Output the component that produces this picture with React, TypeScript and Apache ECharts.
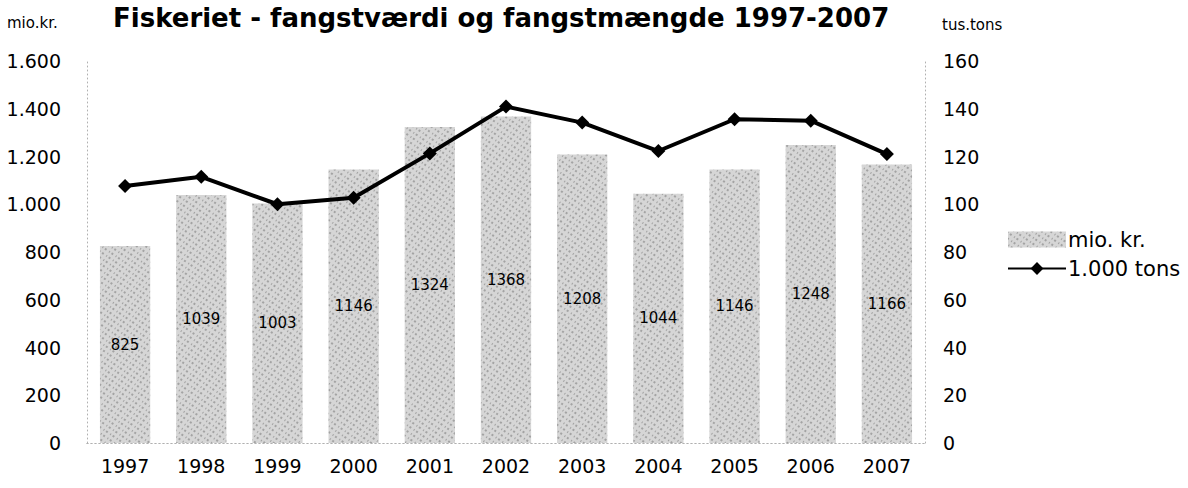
import React, { useEffect, useRef } from "react";
import * as echarts from "echarts";

const years = ["1997", "1998", "1999", "2000", "2001", "2002", "2003", "2004", "2005", "2006", "2007"];
const valueMioKr = [825, 1039, 1003, 1146, 1324, 1368, 1208, 1044, 1146, 1248, 1166];
const tonsThousand = [107.6, 111.5, 100.0, 102.7, 121.3, 140.9, 134.2, 122.3, 135.6, 135.0, 121.0];

const titleText = "Fiskeriet - fangstværdi og fangstmængde 1997-2007";
const leftUnit = "mio.kr.";
const rightUnit = "tus.tons";
const barName = "mio. kr.";
const lineName = "1.000 tons";

const FONT = "'DejaVu Sans', Verdana, sans-serif";
const dotted = { color: "#b0b0b0", width: 1, type: [1, 3] as any };

function fmtThousands(v: number): string {
  return String(v).replace(/\B(?=(\d{3})+(?!\d))/g, ".");
}

export default function App() {
  const ref = useRef<HTMLDivElement>(null);
  useEffect(() => {
    if (!ref.current) return;
    const chart = echarts.init(ref.current, undefined, { renderer: "svg" });
    chart.setOption({
      animation: false,
      backgroundColor: "#ffffff",
      textStyle: { fontFamily: FONT },
      graphic: [
        {
          type: "text",
          left: 113,
          top: 5,
          style: { text: titleText, font: `bold 26px ${FONT}`, fill: "#000" },
        },
        {
          type: "text",
          left: 7,
          top: 15,
          style: { text: leftUnit, font: `15px ${FONT}`, fill: "#000" },
        },
        {
          type: "text",
          left: 942,
          top: 17,
          style: { text: rightUnit, font: `15px ${FONT}`, fill: "#000" },
        },
      ],
      legend: {
        orient: "vertical",
        left: 1002,
        top: 224,
        itemWidth: 58,
        itemHeight: 16,
        itemGap: 8,
        textStyle: { fontFamily: FONT, fontSize: 21, color: "#000", padding: [0, 0, 0, -3] },
        data: [
          { name: barName, icon: "rect" },
          { name: lineName },
        ],
      },
      grid: { left: 87, right: 263, top: 61, bottom: 45, containLabel: false },
      xAxis: [
        {
          type: "category",
          data: years,
          position: "bottom",
          axisLine: { show: true, lineStyle: dotted },
          axisTick: { show: false },
          axisLabel: { color: "#000", fontSize: 19, fontFamily: FONT, margin: 13 },
        },
        {
          type: "category",
          data: years,
          position: "top",
          axisLine: { show: true, lineStyle: dotted },
          axisTick: { show: false },
          axisLabel: { show: false },
        },
      ],
      yAxis: [
        {
          type: "value",
          min: 0,
          max: 1600,
          interval: 200,
          position: "left",
          axisLine: { show: true, lineStyle: dotted },
          axisTick: { show: false },
          splitLine: { show: false },
          axisLabel: {
            color: "#000",
            fontSize: 19,
            fontFamily: FONT,
            margin: 26,
            formatter: (v: number) => fmtThousands(v),
          },
        },
        {
          type: "value",
          min: 0,
          max: 160,
          interval: 20,
          position: "right",
          axisLine: { show: true, lineStyle: dotted },
          axisTick: { show: false },
          splitLine: { show: false },
          axisLabel: { color: "#000", fontSize: 19, fontFamily: FONT, margin: 18 },
        },
      ],
      series: [
        {
          name: barName,
          type: "bar",
          xAxisIndex: 0,
          yAxisIndex: 0,
          data: valueMioKr,
          barWidth: "66%",
          itemStyle: {
            color: "#d6d6d6",
            decal: {
              symbol: "rect",
              symbolSize: 0.7,
              color: "rgba(0,0,0,0.45)",
              backgroundColor: "#dddddd",
              dashArrayX: [[1, 2, 2, 3]],
              dashArrayY: [2, 3],
              rotation: 0.6,
            },
          },
          label: {
            show: true,
            position: "inside",
            color: "#000",
            fontSize: 15,
            fontFamily: FONT,
          },
          z: 1,
        },
        {
          name: lineName,
          type: "line",
          xAxisIndex: 0,
          yAxisIndex: 1,
          data: tonsThousand,
          symbol: "diamond",
          symbolSize: 14,
          lineStyle: { color: "#000", width: 4 },
          itemStyle: { color: "#000" },
          z: 3,
        },
      ],
    });
    return () => chart.dispose();
  }, []);
  return <div ref={ref} style={{ position: "fixed", left: 0, top: 0, width: 1188, height: 488 }} />;
}
